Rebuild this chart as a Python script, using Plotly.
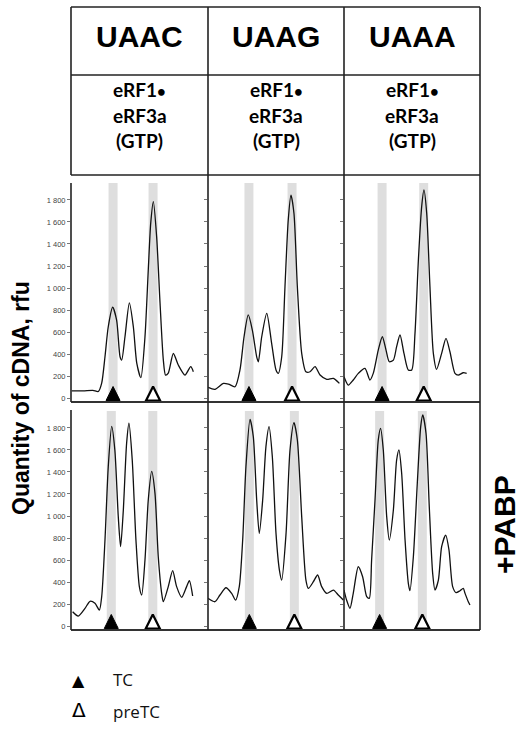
import plotly.graph_objects as go

# ---------------- data ----------------
codons = ["UAAC", "UAAG", "UAAA"]
factor_lines = ["eRF1<span style='font-size:15px'>•</span>", "eRF3a", "(GTP)"]
row_label = "+PABP"
y_title = "Quantity of cDNA, rfu"
legend_labels = ["TC", "preTC"]

y_tick_vals = [0, 200, 400, 600, 800, 1000, 1200, 1400, 1600, 1800]
y_tick_text = ["0", "200", "400", "600", "800", "1 000", "1 200", "1 400", "1 600", "1 800"]

# traces without PABP (top row)
uaac_x = [0.5, 9, 16, 20, 22.4, 24.8, 27.2, 30.4, 33.3, 35.8, 37, 39.4, 42.6, 45.5, 48, 51, 54,
          56.4, 58.2, 60.1, 62.5, 65, 67.4, 69, 71, 74.7, 78.3, 83.2, 87.4, 89.3]
uaac_y = [66, 66, 70, 60, 135, 375, 648, 825, 709, 375, 345, 557, 865, 648, 318, 185, 557,
          1164, 1590, 1785, 1467, 861, 345, 209, 227, 405, 300, 209, 285, 239]

uaag_x = [0, 5.1, 11.3, 15, 19.9, 23.5, 26.5, 29.6, 32.6, 35.8, 37, 39.5, 43.2, 46.8, 50, 51.7,
          54.2, 56.6, 59, 61, 63.2, 65.7, 68.9, 72, 75, 78.7, 82.4, 87.3, 92.2, 96.6]
uaag_y = [97, 79, 133, 127, 103, 255, 557, 755, 618, 375, 330, 557, 770, 497, 255, 224,
          375, 1012, 1618, 1845, 1679, 1012, 406, 239, 239, 285, 209, 170, 179, 133]

uaaa_x = [0, 3.2, 6.8, 10.5, 15.4, 19.1, 21.5, 25.2, 28.2, 30.9, 33.3, 36.3, 38.7, 41.2, 44.1,
          47.3, 49.8, 52.2, 54.7, 57.1, 58.8, 60.8, 63.2, 65.7, 68.1, 71.8, 75, 77.9, 81.6, 84,
          87.7, 90.2]
uaaa_y = [194, 118, 164, 224, 270, 164, 224, 436, 557, 436, 330, 345, 467, 573, 406,
          255, 255, 588, 1255, 1739, 1891, 1679, 1012, 406, 261, 406, 542, 421, 224, 209,
          230, 224]

# traces with PABP (bottom row)
uaac_pabp_x = [1.2, 5.3, 10.2, 13.9, 17.5, 20.7, 22.4, 24.8, 27.2, 29.7, 32, 34.5, 36.2, 38.2,
               40.6, 42.3, 44.7, 47.4, 49.9, 51.6, 54, 56.4, 58.9, 61.3, 63.7, 66.2, 67.4, 71,
               74.2, 77.1, 80.8, 84.4, 86.4, 88.8]
uaac_pabp_y = [130, 91, 161, 225, 206, 145, 267, 782, 1448, 1815, 1600, 994, 721, 1055,
               1661, 1843, 1509, 782, 358, 282, 600, 1145, 1405, 1206, 630, 297, 221, 358,
               503, 358, 261, 358, 412, 273]

uaag_pabp_x = [0, 5.1, 8.8, 13.2, 17.4, 20.3, 23, 25.5, 27.9, 30.9, 33.3, 35.8, 37.7, 40.2,
               42.6, 44.9, 47.3, 50, 52.5, 54.2, 57.4, 60.3, 63.2, 65.7, 68.9, 72, 73.8, 77.5,
               80.6, 83.6, 87.3, 92.2, 95.8, 99.5]
uaag_pabp_y = [252, 221, 282, 348, 297, 236, 358, 782, 1448, 1879, 1721, 1145, 842, 1145,
               1630, 1812, 1539, 842, 509, 418, 842, 1600, 1848, 1691, 994, 418, 342, 403,
               464, 358, 297, 327, 282, 236]

uaaa_pabp_x = [0, 1.9, 4.4, 6.8, 10.5, 13.7, 16.7, 18.6, 20.3, 22.8, 25.2, 26.9, 28.9, 31.4,
               33.3, 36.3, 38.7, 40.4, 42.4, 44.9, 47.3, 48.5, 51, 53.9, 56.4, 57.9, 60.3, 62.7,
               65.2, 66.9, 69.4, 71.8, 74.8, 77.2, 79.9, 82.4, 85.3, 87.7, 89, 91.4, 92.6]
uaaa_pabp_y = [327, 236, 161, 297, 539, 448, 267, 252, 600, 1145, 1691, 1797, 1600, 994,
               782, 1055, 1509, 1600, 1388, 782, 388, 321, 630, 1297, 1812, 1918, 1752, 1085,
               479, 327, 418, 721, 827, 691, 358, 303, 321, 342, 297, 221, 191]

# peak positions (TC / preTC) per panel
tc_pos = [30.7, 30.1, 28.0]
pretc_pos = [59.9, 61.8, 58.6]
tc_pos_pabp = [29.4, 30.4, 26.2]
pretc_pos_pabp = [59.7, 63.5, 57.6]

# ---------------- layout helpers ----------------
W, H = 522, 731
COL_X = [71, 208, 344, 480]
ROW_Y = [7, 75, 175, 402, 630]
FACTOR_LINE_Y = [90, 115, 140]


def px(x):
    return x / W


def py(y):
    return 1 - y / H


BAND_TOP = 1955
BAND_W = 6.6
TRI_TIP = 105
Y_RANGES = [[-36, 2027], [-36, 2036]]

panels = [
    [(uaac_x, uaac_y), (uaag_x, uaag_y), (uaaa_x, uaaa_y)],
    [(uaac_pabp_x, uaac_pabp_y), (uaag_pabp_x, uaag_pabp_y), (uaaa_pabp_x, uaaa_pabp_y)],
]
peaks = [(tc_pos, pretc_pos), (tc_pos_pabp, pretc_pos_pabp)]

fig = go.Figure()
layout = dict(
    width=W, height=H, margin=dict(l=0, r=0, t=0, b=0),
    paper_bgcolor="white", plot_bgcolor="rgba(0,0,0,0)",
    showlegend=False, barmode="overlay",
)

for r in range(2):
    for c in range(3):
        i = r * 3 + c + 1
        xa = "x" if i == 1 else f"x{i}"
        ya = "y" if i == 1 else f"y{i}"
        xs, ys = panels[r][c]
        tcs, pres = peaks[r]
        fig.add_trace(go.Bar(
            x=[tcs[c], pres[c]], y=[BAND_TOP, BAND_TOP], width=BAND_W,
            marker=dict(color="#dedede", line=dict(width=0)),
            xaxis=xa, yaxis=ya, hoverinfo="skip"))
        fig.add_trace(go.Scatter(
            x=xs, y=ys, mode="lines",
            line=dict(color="#111111", width=1.3, shape="spline", smoothing=0.7),
            xaxis=xa, yaxis=ya))
        fig.add_trace(go.Scatter(
            x=[tcs[c]], y=[TRI_TIP], mode="markers",
            marker=dict(symbol="arrow-up", size=14, color="black",
                        line=dict(color="black", width=1)),
            xaxis=xa, yaxis=ya))
        fig.add_trace(go.Scatter(
            x=[pres[c]], y=[TRI_TIP], mode="markers",
            marker=dict(symbol="arrow-up", size=14, color="white",
                        line=dict(color="black", width=2.2)),
            xaxis=xa, yaxis=ya))
        xkey = "xaxis" if i == 1 else f"xaxis{i}"
        ykey = "yaxis" if i == 1 else f"yaxis{i}"
        layout[xkey] = dict(
            domain=[px(COL_X[c]), px(COL_X[c + 1])], range=[0, 100],
            anchor=ya, showticklabels=False, showgrid=False, zeroline=False,
            showline=False, ticks="", fixedrange=True)
        layout[ykey] = dict(
            domain=[py(ROW_Y[3] if r == 0 else ROW_Y[4]), py(ROW_Y[2] if r == 0 else ROW_Y[3])],
            range=Y_RANGES[r], anchor=xa,
            tickvals=y_tick_vals, ticktext=y_tick_text,
            showticklabels=(c == 0), ticks="outside", ticklen=3, tickwidth=1,
            tickcolor="#777777", showgrid=False, zeroline=False, showline=False,
            tickfont=dict(family="Liberation Sans, Arial", size=7.5, color="#444444"),
            fixedrange=True)

# table lines
line_style = dict(color="#222222", width=1.6)
shapes = []
for yy in [ROW_Y[0], ROW_Y[1], ROW_Y[2]]:
    shapes.append(dict(type="line", xref="paper", yref="paper",
                       x0=px(COL_X[0]), x1=px(COL_X[3]), y0=py(yy), y1=py(yy), line=line_style))
for yy in [ROW_Y[3], ROW_Y[4]]:
    shapes.append(dict(type="line", xref="paper", yref="paper",
                       x0=px(COL_X[0]), x1=px(COL_X[3]), y0=py(yy), y1=py(yy),
                       line=dict(color="#333333", width=2)))
# left border with small gaps at plot tops
for y0, y1 in [(ROW_Y[0], ROW_Y[2]), (ROW_Y[2] + 8, ROW_Y[3]), (ROW_Y[3] + 8, ROW_Y[4])]:
    shapes.append(dict(type="line", xref="paper", yref="paper",
                       x0=px(COL_X[0]), x1=px(COL_X[0]), y0=py(y0), y1=py(y1), line=line_style))
for xx in COL_X[1:]:
    shapes.append(dict(type="line", xref="paper", yref="paper",
                       x0=px(xx), x1=px(xx), y0=py(ROW_Y[0]), y1=py(ROW_Y[4]), line=line_style))
layout["shapes"] = shapes

ann = []
for c in range(3):
    cx = (COL_X[c] + COL_X[c + 1]) / 2
    ann.append(dict(x=px(cx), y=py(37), xref="paper", yref="paper", text=f"<b>{codons[c]}</b>",
                    showarrow=False, xanchor="center", yanchor="middle",
                    font=dict(family="Liberation Sans, Arial", size=30, color="black")))
    for line_text, ly in zip(factor_lines, FACTOR_LINE_Y):
        ann.append(dict(x=px(cx), y=py(ly), xref="paper", yref="paper",
                        text=f"<b>{line_text}</b>",
                        showarrow=False, xanchor="center", yanchor="middle",
                        font=dict(family="Lato", size=19, color="black")))
ann.append(dict(x=px(21), y=py(398), xref="paper", yref="paper", text=f"<b>{y_title}</b>",
                showarrow=False, textangle=-90, xanchor="center", yanchor="middle",
                font=dict(family="Liberation Sans, Arial", size=23, color="black")))
ann.append(dict(x=px(504), y=py(525), xref="paper", yref="paper", text=f"<b>{row_label}</b>",
                showarrow=False, textangle=-90, xanchor="center", yanchor="middle",
                font=dict(family="Liberation Sans, Arial", size=30, color="black")))
# legend
ann.append(dict(x=px(78), y=py(680), xref="paper", yref="paper", text="▲",
                showarrow=False, xanchor="center", yanchor="middle",
                font=dict(family="DejaVu Sans", size=16, color="black")))
ann.append(dict(x=px(79), y=py(710), xref="paper", yref="paper", text="Δ",
                showarrow=False, xanchor="center", yanchor="middle",
                font=dict(family="DejaVu Sans", size=20, color="black")))
ann.append(dict(x=px(111), y=py(679), xref="paper", yref="paper", text=legend_labels[0],
                showarrow=False, xanchor="left", yanchor="middle",
                font=dict(family="Open Sans", size=17, color="#111111")))
ann.append(dict(x=px(111), y=py(711), xref="paper", yref="paper", text=legend_labels[1],
                showarrow=False, xanchor="left", yanchor="middle",
                font=dict(family="Open Sans", size=17, color="#111111")))
layout["annotations"] = ann

fig.update_layout(**layout)
fig.write_html("out.html", config={"displayModeBar": False},
               post_script="document.body.style.margin='0px';")
